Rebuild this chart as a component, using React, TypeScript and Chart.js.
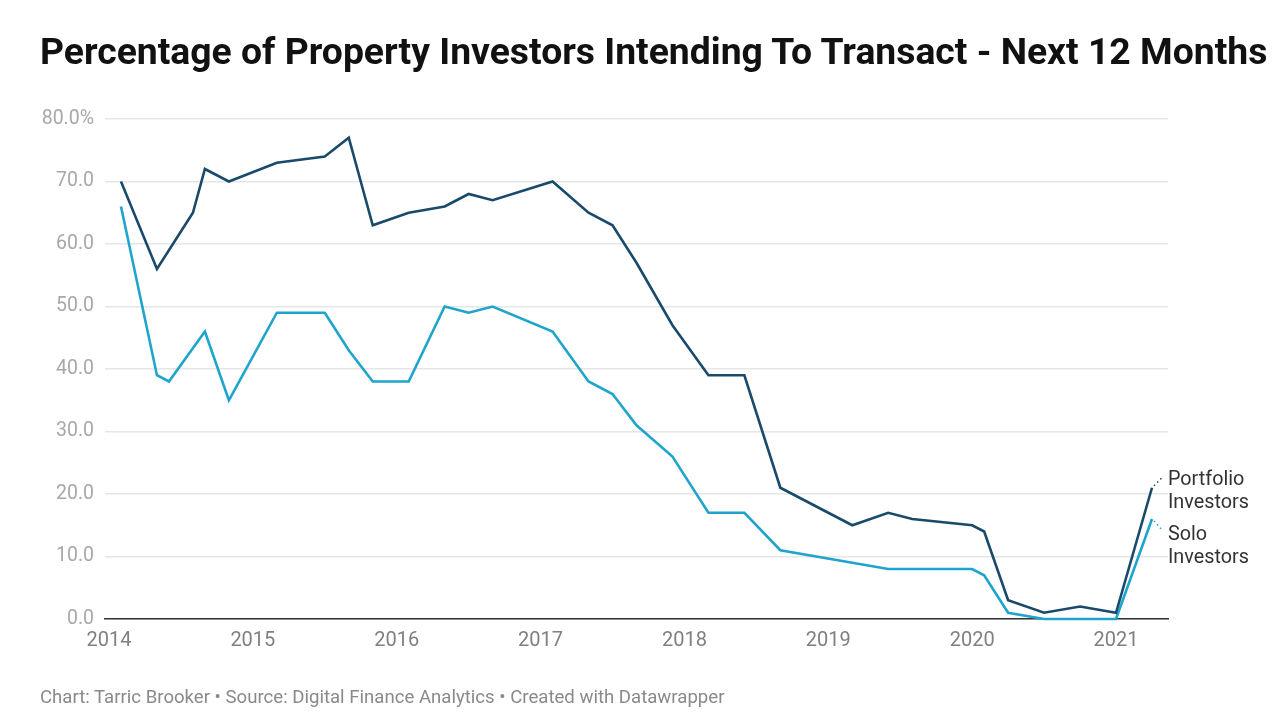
import React, { useEffect, useRef } from "react";
import { Chart, registerables } from "chart.js";

Chart.register(...registerables);

const titleText = "Percentage of Property Investors Intending To Transact - Next 12 Months";
const footerText = "Chart: Tarric Brooker • Source: Digital Finance Analytics • Created with Datawrapper";

const portfolioDates = [
  "2014-02", "2014-05", "2014-08", "2014-09", "2014-11", "2015-03", "2015-07", "2015-09", "2015-11",
  "2016-02", "2016-05", "2016-07", "2016-09", "2017-02", "2017-05", "2017-07", "2017-09", "2017-12",
  "2018-03", "2018-06", "2018-09", "2019-03", "2019-06", "2019-08", "2020-01", "2020-02", "2020-04",
  "2020-07", "2020-10", "2021-01", "2021-04",
];
const portfolioValues = [
  70, 56, 65, 72, 70, 73, 74, 77, 63,
  65, 66, 68, 67, 70, 65, 63, 57, 47,
  39, 39, 21, 15, 17, 16, 15, 14, 3,
  1, 2, 1, 21,
];

const soloDates = [
  "2014-02", "2014-05", "2014-06", "2014-09", "2014-11", "2015-03", "2015-07", "2015-09", "2015-11",
  "2016-02", "2016-05", "2016-07", "2016-09", "2017-02", "2017-05", "2017-07", "2017-09", "2017-12",
  "2018-03", "2018-06", "2018-09", "2019-03", "2019-06", "2020-01", "2020-02", "2020-04",
  "2020-07", "2020-10", "2021-01", "2021-04",
];
const soloValues = [
  66, 39, 38, 46, 35, 49, 49, 43, 38,
  38, 50, 49, 50, 46, 38, 36, 31, 26,
  17, 17, 11, 9, 8, 8, 7, 1,
  0, 0, 0, 16,
];

const yearTicks = [2014, 2015, 2016, 2017, 2018, 2019, 2020, 2021];
const seriesNames = ["Portfolio Investors", "Solo Investors"];
const seriesLabelLines = [["Portfolio", "Investors"], ["Solo", "Investors"]];

const DARK = "#1a4a6b";
const LIGHT = "#1fa4cc";

const toYear = (s: string) => {
  const [y, m] = s.split("-").map(Number);
  return y + (m - 1) / 12;
};

const labelPlugin = {
  id: "endLabels",
  afterDatasetsDraw(chart: any) {
    const ctx = chart.ctx;
    const cfg = [
      { dx: 11, dy: -11, textDy: -8 },
      { dx: 11, dy: 12, textDy: 16 },
    ];
    chart.data.datasets.forEach((ds: any, i: number) => {
      const meta = chart.getDatasetMeta(i);
      const pt = meta.data[meta.data.length - 1];
      if (!pt) return;
      const c = cfg[i];
      ctx.save();
      ctx.strokeStyle = ds.borderColor;
      ctx.lineWidth = 1.5;
      ctx.setLineDash([1.5, 3]);
      ctx.beginPath();
      ctx.moveTo(pt.x + 2, pt.y + (c.dy < 0 ? -2 : 2));
      ctx.lineTo(pt.x + c.dx, pt.y + c.dy);
      ctx.stroke();
      ctx.setLineDash([]);
      ctx.fillStyle = "#333333";
      ctx.font = "19.8px Roboto";
      ctx.textAlign = "left";
      ctx.textBaseline = "middle";
      seriesLabelLines[i].forEach((line, k) => {
        ctx.fillText(line, pt.x + 16, pt.y + c.textDy + k * 23);
      });
      ctx.restore();
    });
  },
};

export default function App() {
  const ref = useRef<HTMLCanvasElement>(null);
  useEffect(() => {
    if (!ref.current) return;
    const chart = new Chart(ref.current, {
      type: "line",
      data: {
        datasets: [
          {
            label: seriesNames[0],
            data: portfolioDates.map((d, i) => ({ x: toYear(d), y: portfolioValues[i] })),
            borderColor: DARK,
            backgroundColor: DARK,
            borderWidth: 2.6,
            pointRadius: 0,
            tension: 0,
            clip: false as any,
          },
          {
            label: seriesNames[1],
            data: soloDates.map((d, i) => ({ x: toYear(d), y: soloValues[i] })),
            borderColor: LIGHT,
            backgroundColor: LIGHT,
            borderWidth: 2.6,
            pointRadius: 0,
            tension: 0,
            clip: false as any,
          },
        ],
      },
      options: {
        animation: false,
        responsive: false,
        layout: { padding: { left: 5, right: 112, top: 119, bottom: 62 } },
        plugins: {
          legend: { display: false },
          tooltip: { enabled: false },
          title: { display: false },
        },
        scales: {
          x: {
            type: "linear",
            min: 2014 - 4 / 143.86,
            max: 2014 + (1168 - 109) / 143.86,
            afterBuildTicks: (axis: any) => {
              axis.ticks = yearTicks.map((v) => ({ value: v }));
            },
            afterFit: (axis: any) => {
              axis.height = 40;
            },
            grid: { display: false, drawTicks: false },
            border: { display: true, color: "#333333", width: 1.5 },
            ticks: {
              padding: 10,
              color: "#808080",
              font: { family: "Roboto", size: 20 },
              maxRotation: 0,
              autoSkip: false,
              callback: (v: any) => String(v),
            },
          },
          y: {
            min: 0,
            max: 80,
            afterFit: (axis: any) => {
              axis.width = 100;
            },
            ticks: {
              stepSize: 10,
              padding: 11,
              color: "#a8a8a8",
              font: { family: "Roboto", size: 19.5 },
              callback: (v: any) => (v === 80 ? "80.0%" : Number(v).toFixed(1)),
            },
            grid: { color: "#e6e6e6", lineWidth: 1.5, drawTicks: false },
            border: { display: false },
          },
        },
      },
      plugins: [labelPlugin],
    });
    return () => chart.destroy();
  }, []);

  return (
    <div style={{ position: "absolute", left: 0, top: 0, width: 1280, height: 721, background: "#fff", overflow: "hidden" }}>
      <canvas ref={ref} width={1280} height={721} style={{ position: "absolute", left: 0, top: 0 }} />
      <div
        style={{
          position: "absolute",
          left: 40,
          top: 33,
          fontFamily: "Roboto",
          fontWeight: 700,
          fontSize: 37.3,
          lineHeight: "37.3px",
          color: "#111",
          whiteSpace: "nowrap",
        }}
      >
        {titleText}
      </div>
      <div
        style={{
          position: "absolute",
          left: 40,
          top: 688,
          fontFamily: "Roboto",
          fontSize: 18.6,
          lineHeight: "18.6px",
          color: "#8a8a8a",
          whiteSpace: "nowrap",
        }}
      >
        {footerText}
      </div>
    </div>
  );
}
